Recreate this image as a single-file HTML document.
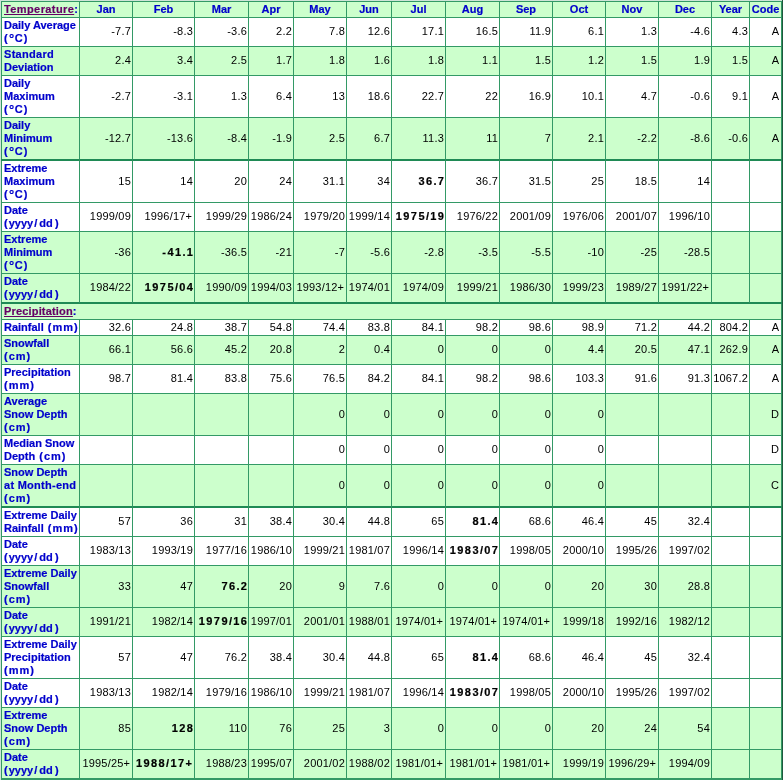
<!DOCTYPE html><html><head><meta charset="utf-8"><style>
*{margin:0;padding:0;box-sizing:border-box}
html,body{width:783px;height:780px;overflow:hidden;background:#cfe4d8}
body{position:relative;-webkit-font-smoothing:antialiased;font-family:"Liberation Sans",sans-serif;font-size:11px;line-height:13px}
#g{position:absolute;left:1px;top:1px;width:781px;height:779px;background:#339966}
#sh{position:absolute;left:782px;top:0;width:1px;height:780px;background:#1e5a3c}
.c{position:absolute;white-space:nowrap;overflow:visible}
#w{position:absolute;left:0;top:0;width:783px;height:780px;will-change:transform}
.l{font-weight:bold;color:#0000cc;padding-left:2px;-webkit-text-stroke:0.2px}
.n{text-align:right;padding-right:1px;color:#000;letter-spacing:0.2px}
.h{text-align:center;font-weight:bold;color:#0000cc;-webkit-text-stroke:0.2px}
.k{text-align:right;padding-right:2px;color:#000}
b{font-weight:bold;-webkit-text-stroke:0.2px}
a{color:#660066;text-decoration:underline;text-decoration-skip-ink:none}
</style></head><body>
<div id="g"></div><div id="sh"></div><div id="w">
<div class="c l" style="left:2px;top:2px;width:77px;height:15px;padding-top:1px;background:#ccffcc"><a style="letter-spacing:0.4px">Temperature</a>:</div>
<div class="c h" style="left:80px;top:2px;width:52px;height:15px;padding-top:1px;background:#ccffcc">Jan</div>
<div class="c h" style="left:133px;top:2px;width:61px;height:15px;padding-top:1px;background:#ccffcc">Feb</div>
<div class="c h" style="left:195px;top:2px;width:53px;height:15px;padding-top:1px;background:#ccffcc">Mar</div>
<div class="c h" style="left:249px;top:2px;width:44px;height:15px;padding-top:1px;background:#ccffcc">Apr</div>
<div class="c h" style="left:294px;top:2px;width:52px;height:15px;padding-top:1px;background:#ccffcc">May</div>
<div class="c h" style="left:347px;top:2px;width:44px;height:15px;padding-top:1px;background:#ccffcc">Jun</div>
<div class="c h" style="left:392px;top:2px;width:53px;height:15px;padding-top:1px;background:#ccffcc">Jul</div>
<div class="c h" style="left:446px;top:2px;width:53px;height:15px;padding-top:1px;background:#ccffcc">Aug</div>
<div class="c h" style="left:500px;top:2px;width:52px;height:15px;padding-top:1px;background:#ccffcc">Sep</div>
<div class="c h" style="left:553px;top:2px;width:52px;height:15px;padding-top:1px;background:#ccffcc">Oct</div>
<div class="c h" style="left:606px;top:2px;width:52px;height:15px;padding-top:1px;background:#ccffcc">Nov</div>
<div class="c h" style="left:659px;top:2px;width:52px;height:15px;padding-top:1px;background:#ccffcc">Dec</div>
<div class="c h" style="left:712px;top:2px;width:37px;height:15px;padding-top:1px;background:#ccffcc">Year</div>
<div class="c h" style="left:750px;top:2px;width:31px;height:15px;padding-top:1px;background:#ccffcc">Code</div>
<div class="c l" style="left:2px;top:18px;width:77px;height:28px;padding-top:1px;background:#ffffff">Daily Average<br><span style="letter-spacing:1.2px">(<span style="font-size:13px;line-height:1px;letter-spacing:0.6px;position:relative;top:1px">°</span>C)</span></div>
<div class="c n" style="left:80px;top:18px;width:52px;height:28px;padding-top:7px;background:#ffffff">-7.7</div>
<div class="c n" style="left:133px;top:18px;width:61px;height:28px;padding-top:7px;background:#ffffff">-8.3</div>
<div class="c n" style="left:195px;top:18px;width:53px;height:28px;padding-top:7px;background:#ffffff">-3.6</div>
<div class="c n" style="left:249px;top:18px;width:44px;height:28px;padding-top:7px;background:#ffffff">2.2</div>
<div class="c n" style="left:294px;top:18px;width:52px;height:28px;padding-top:7px;background:#ffffff">7.8</div>
<div class="c n" style="left:347px;top:18px;width:44px;height:28px;padding-top:7px;background:#ffffff">12.6</div>
<div class="c n" style="left:392px;top:18px;width:53px;height:28px;padding-top:7px;background:#ffffff">17.1</div>
<div class="c n" style="left:446px;top:18px;width:53px;height:28px;padding-top:7px;background:#ffffff">16.5</div>
<div class="c n" style="left:500px;top:18px;width:52px;height:28px;padding-top:7px;background:#ffffff">11.9</div>
<div class="c n" style="left:553px;top:18px;width:52px;height:28px;padding-top:7px;background:#ffffff">6.1</div>
<div class="c n" style="left:606px;top:18px;width:52px;height:28px;padding-top:7px;background:#ffffff">1.3</div>
<div class="c n" style="left:659px;top:18px;width:52px;height:28px;padding-top:7px;background:#ffffff">-4.6</div>
<div class="c n" style="left:712px;top:18px;width:37px;height:28px;padding-top:7px;background:#ffffff">4.3</div>
<div class="c k" style="left:750px;top:18px;width:31px;height:28px;padding-top:7px;background:#ffffff">A</div>
<div class="c l" style="left:2px;top:47px;width:77px;height:28px;padding-top:1px;background:#ccffcc"><span style="letter-spacing:0.29px">Standard</span><br>Deviation</div>
<div class="c n" style="left:80px;top:47px;width:52px;height:28px;padding-top:7px;background:#ccffcc">2.4</div>
<div class="c n" style="left:133px;top:47px;width:61px;height:28px;padding-top:7px;background:#ccffcc">3.4</div>
<div class="c n" style="left:195px;top:47px;width:53px;height:28px;padding-top:7px;background:#ccffcc">2.5</div>
<div class="c n" style="left:249px;top:47px;width:44px;height:28px;padding-top:7px;background:#ccffcc">1.7</div>
<div class="c n" style="left:294px;top:47px;width:52px;height:28px;padding-top:7px;background:#ccffcc">1.8</div>
<div class="c n" style="left:347px;top:47px;width:44px;height:28px;padding-top:7px;background:#ccffcc">1.6</div>
<div class="c n" style="left:392px;top:47px;width:53px;height:28px;padding-top:7px;background:#ccffcc">1.8</div>
<div class="c n" style="left:446px;top:47px;width:53px;height:28px;padding-top:7px;background:#ccffcc">1.1</div>
<div class="c n" style="left:500px;top:47px;width:52px;height:28px;padding-top:7px;background:#ccffcc">1.5</div>
<div class="c n" style="left:553px;top:47px;width:52px;height:28px;padding-top:7px;background:#ccffcc">1.2</div>
<div class="c n" style="left:606px;top:47px;width:52px;height:28px;padding-top:7px;background:#ccffcc">1.5</div>
<div class="c n" style="left:659px;top:47px;width:52px;height:28px;padding-top:7px;background:#ccffcc">1.9</div>
<div class="c n" style="left:712px;top:47px;width:37px;height:28px;padding-top:7px;background:#ccffcc">1.5</div>
<div class="c k" style="left:750px;top:47px;width:31px;height:28px;padding-top:7px;background:#ccffcc">A</div>
<div class="c l" style="left:2px;top:76px;width:77px;height:41px;padding-top:1px;background:#ffffff">Daily<br>Maximum<br><span style="letter-spacing:1.2px">(<span style="font-size:13px;line-height:1px;letter-spacing:0.6px;position:relative;top:1px">°</span>C)</span></div>
<div class="c n" style="left:80px;top:76px;width:52px;height:41px;padding-top:14px;background:#ffffff">-2.7</div>
<div class="c n" style="left:133px;top:76px;width:61px;height:41px;padding-top:14px;background:#ffffff">-3.1</div>
<div class="c n" style="left:195px;top:76px;width:53px;height:41px;padding-top:14px;background:#ffffff">1.3</div>
<div class="c n" style="left:249px;top:76px;width:44px;height:41px;padding-top:14px;background:#ffffff">6.4</div>
<div class="c n" style="left:294px;top:76px;width:52px;height:41px;padding-top:14px;background:#ffffff">13</div>
<div class="c n" style="left:347px;top:76px;width:44px;height:41px;padding-top:14px;background:#ffffff">18.6</div>
<div class="c n" style="left:392px;top:76px;width:53px;height:41px;padding-top:14px;background:#ffffff">22.7</div>
<div class="c n" style="left:446px;top:76px;width:53px;height:41px;padding-top:14px;background:#ffffff">22</div>
<div class="c n" style="left:500px;top:76px;width:52px;height:41px;padding-top:14px;background:#ffffff">16.9</div>
<div class="c n" style="left:553px;top:76px;width:52px;height:41px;padding-top:14px;background:#ffffff">10.1</div>
<div class="c n" style="left:606px;top:76px;width:52px;height:41px;padding-top:14px;background:#ffffff">4.7</div>
<div class="c n" style="left:659px;top:76px;width:52px;height:41px;padding-top:14px;background:#ffffff">-0.6</div>
<div class="c n" style="left:712px;top:76px;width:37px;height:41px;padding-top:14px;background:#ffffff">9.1</div>
<div class="c k" style="left:750px;top:76px;width:31px;height:41px;padding-top:14px;background:#ffffff">A</div>
<div class="c l" style="left:2px;top:118px;width:77px;height:41px;padding-top:1px;background:#ccffcc">Daily<br>Minimum<br><span style="letter-spacing:1.2px">(<span style="font-size:13px;line-height:1px;letter-spacing:0.6px;position:relative;top:1px">°</span>C)</span></div>
<div class="c n" style="left:80px;top:118px;width:52px;height:41px;padding-top:14px;background:#ccffcc">-12.7</div>
<div class="c n" style="left:133px;top:118px;width:61px;height:41px;padding-top:14px;background:#ccffcc">-13.6</div>
<div class="c n" style="left:195px;top:118px;width:53px;height:41px;padding-top:14px;background:#ccffcc">-8.4</div>
<div class="c n" style="left:249px;top:118px;width:44px;height:41px;padding-top:14px;background:#ccffcc">-1.9</div>
<div class="c n" style="left:294px;top:118px;width:52px;height:41px;padding-top:14px;background:#ccffcc">2.5</div>
<div class="c n" style="left:347px;top:118px;width:44px;height:41px;padding-top:14px;background:#ccffcc">6.7</div>
<div class="c n" style="left:392px;top:118px;width:53px;height:41px;padding-top:14px;background:#ccffcc">11.3</div>
<div class="c n" style="left:446px;top:118px;width:53px;height:41px;padding-top:14px;background:#ccffcc">11</div>
<div class="c n" style="left:500px;top:118px;width:52px;height:41px;padding-top:14px;background:#ccffcc">7</div>
<div class="c n" style="left:553px;top:118px;width:52px;height:41px;padding-top:14px;background:#ccffcc">2.1</div>
<div class="c n" style="left:606px;top:118px;width:52px;height:41px;padding-top:14px;background:#ccffcc">-2.2</div>
<div class="c n" style="left:659px;top:118px;width:52px;height:41px;padding-top:14px;background:#ccffcc">-8.6</div>
<div class="c n" style="left:712px;top:118px;width:37px;height:41px;padding-top:14px;background:#ccffcc">-0.6</div>
<div class="c k" style="left:750px;top:118px;width:31px;height:41px;padding-top:14px;background:#ccffcc">A</div>
<div class="c l" style="left:2px;top:161px;width:77px;height:41px;padding-top:1px;background:#ffffff">Extreme<br>Maximum<br><span style="letter-spacing:1.2px">(<span style="font-size:13px;line-height:1px;letter-spacing:0.6px;position:relative;top:1px">°</span>C)</span></div>
<div class="c n" style="left:80px;top:161px;width:52px;height:41px;padding-top:14px;background:#ffffff">15</div>
<div class="c n" style="left:133px;top:161px;width:61px;height:41px;padding-top:14px;background:#ffffff">14</div>
<div class="c n" style="left:195px;top:161px;width:53px;height:41px;padding-top:14px;background:#ffffff">20</div>
<div class="c n" style="left:249px;top:161px;width:44px;height:41px;padding-top:14px;background:#ffffff">24</div>
<div class="c n" style="left:294px;top:161px;width:52px;height:41px;padding-top:14px;background:#ffffff">31.1</div>
<div class="c n" style="left:347px;top:161px;width:44px;height:41px;padding-top:14px;background:#ffffff">34</div>
<div class="c n" style="left:392px;top:161px;width:53px;height:41px;padding-top:14px;background:#ffffff"><b style="letter-spacing:1.4px;margin-right:-1.4px">36.7</b></div>
<div class="c n" style="left:446px;top:161px;width:53px;height:41px;padding-top:14px;background:#ffffff">36.7</div>
<div class="c n" style="left:500px;top:161px;width:52px;height:41px;padding-top:14px;background:#ffffff">31.5</div>
<div class="c n" style="left:553px;top:161px;width:52px;height:41px;padding-top:14px;background:#ffffff">25</div>
<div class="c n" style="left:606px;top:161px;width:52px;height:41px;padding-top:14px;background:#ffffff">18.5</div>
<div class="c n" style="left:659px;top:161px;width:52px;height:41px;padding-top:14px;background:#ffffff">14</div>
<div class="c n" style="left:712px;top:161px;width:37px;height:41px;padding-top:14px;background:#ffffff"></div>
<div class="c k" style="left:750px;top:161px;width:31px;height:41px;padding-top:14px;background:#ffffff"></div>
<div class="c l" style="left:2px;top:203px;width:77px;height:28px;padding-top:1px;background:#ffffff">Date<br><span style="letter-spacing:1px">(</span>yyy<span style="letter-spacing:1px">y</span><span style="letter-spacing:2px">/</span>d<span style="letter-spacing:2.2px">d</span>)</div>
<div class="c n" style="left:80px;top:203px;width:52px;height:28px;padding-top:7px;background:#ffffff">1999/09</div>
<div class="c n" style="left:133px;top:203px;width:61px;height:28px;padding-top:7px;background:#ffffff"><span style="margin-right:0.8px">1996/17+</span></div>
<div class="c n" style="left:195px;top:203px;width:53px;height:28px;padding-top:7px;background:#ffffff">1999/29</div>
<div class="c n" style="left:249px;top:203px;width:44px;height:28px;padding-top:7px;background:#ffffff">1986/24</div>
<div class="c n" style="left:294px;top:203px;width:52px;height:28px;padding-top:7px;background:#ffffff">1979/20</div>
<div class="c n" style="left:347px;top:203px;width:44px;height:28px;padding-top:7px;background:#ffffff">1999/14</div>
<div class="c n" style="left:392px;top:203px;width:53px;height:28px;padding-top:7px;background:#ffffff"><b style="letter-spacing:1.4px;margin-right:-1.4px">1975/19</b></div>
<div class="c n" style="left:446px;top:203px;width:53px;height:28px;padding-top:7px;background:#ffffff">1976/22</div>
<div class="c n" style="left:500px;top:203px;width:52px;height:28px;padding-top:7px;background:#ffffff">2001/09</div>
<div class="c n" style="left:553px;top:203px;width:52px;height:28px;padding-top:7px;background:#ffffff">1976/06</div>
<div class="c n" style="left:606px;top:203px;width:52px;height:28px;padding-top:7px;background:#ffffff">2001/07</div>
<div class="c n" style="left:659px;top:203px;width:52px;height:28px;padding-top:7px;background:#ffffff">1996/10</div>
<div class="c n" style="left:712px;top:203px;width:37px;height:28px;padding-top:7px;background:#ffffff"></div>
<div class="c k" style="left:750px;top:203px;width:31px;height:28px;padding-top:7px;background:#ffffff"></div>
<div class="c l" style="left:2px;top:232px;width:77px;height:41px;padding-top:1px;background:#ccffcc">Extreme<br>Minimum<br><span style="letter-spacing:1.2px">(<span style="font-size:13px;line-height:1px;letter-spacing:0.6px;position:relative;top:1px">°</span>C)</span></div>
<div class="c n" style="left:80px;top:232px;width:52px;height:41px;padding-top:14px;background:#ccffcc">-36</div>
<div class="c n" style="left:133px;top:232px;width:61px;height:41px;padding-top:14px;background:#ccffcc"><b style="letter-spacing:1.4px;margin-right:-1.4px">-41.1</b></div>
<div class="c n" style="left:195px;top:232px;width:53px;height:41px;padding-top:14px;background:#ccffcc">-36.5</div>
<div class="c n" style="left:249px;top:232px;width:44px;height:41px;padding-top:14px;background:#ccffcc">-21</div>
<div class="c n" style="left:294px;top:232px;width:52px;height:41px;padding-top:14px;background:#ccffcc">-7</div>
<div class="c n" style="left:347px;top:232px;width:44px;height:41px;padding-top:14px;background:#ccffcc">-5.6</div>
<div class="c n" style="left:392px;top:232px;width:53px;height:41px;padding-top:14px;background:#ccffcc">-2.8</div>
<div class="c n" style="left:446px;top:232px;width:53px;height:41px;padding-top:14px;background:#ccffcc">-3.5</div>
<div class="c n" style="left:500px;top:232px;width:52px;height:41px;padding-top:14px;background:#ccffcc">-5.5</div>
<div class="c n" style="left:553px;top:232px;width:52px;height:41px;padding-top:14px;background:#ccffcc">-10</div>
<div class="c n" style="left:606px;top:232px;width:52px;height:41px;padding-top:14px;background:#ccffcc">-25</div>
<div class="c n" style="left:659px;top:232px;width:52px;height:41px;padding-top:14px;background:#ccffcc">-28.5</div>
<div class="c n" style="left:712px;top:232px;width:37px;height:41px;padding-top:14px;background:#ccffcc"></div>
<div class="c k" style="left:750px;top:232px;width:31px;height:41px;padding-top:14px;background:#ccffcc"></div>
<div class="c l" style="left:2px;top:274px;width:77px;height:28px;padding-top:1px;background:#ccffcc">Date<br><span style="letter-spacing:1px">(</span>yyy<span style="letter-spacing:1px">y</span><span style="letter-spacing:2px">/</span>d<span style="letter-spacing:2.2px">d</span>)</div>
<div class="c n" style="left:80px;top:274px;width:52px;height:28px;padding-top:7px;background:#ccffcc">1984/22</div>
<div class="c n" style="left:133px;top:274px;width:61px;height:28px;padding-top:7px;background:#ccffcc"><b style="letter-spacing:1.4px;margin-right:-1.4px">1975/04</b></div>
<div class="c n" style="left:195px;top:274px;width:53px;height:28px;padding-top:7px;background:#ccffcc">1990/09</div>
<div class="c n" style="left:249px;top:274px;width:44px;height:28px;padding-top:7px;background:#ccffcc">1994/03</div>
<div class="c n" style="left:294px;top:274px;width:52px;height:28px;padding-top:7px;background:#ccffcc"><span style="margin-right:0.8px">1993/12+</span></div>
<div class="c n" style="left:347px;top:274px;width:44px;height:28px;padding-top:7px;background:#ccffcc">1974/01</div>
<div class="c n" style="left:392px;top:274px;width:53px;height:28px;padding-top:7px;background:#ccffcc">1974/09</div>
<div class="c n" style="left:446px;top:274px;width:53px;height:28px;padding-top:7px;background:#ccffcc">1999/21</div>
<div class="c n" style="left:500px;top:274px;width:52px;height:28px;padding-top:7px;background:#ccffcc">1986/30</div>
<div class="c n" style="left:553px;top:274px;width:52px;height:28px;padding-top:7px;background:#ccffcc">1999/23</div>
<div class="c n" style="left:606px;top:274px;width:52px;height:28px;padding-top:7px;background:#ccffcc">1989/27</div>
<div class="c n" style="left:659px;top:274px;width:52px;height:28px;padding-top:7px;background:#ccffcc"><span style="margin-right:0.8px">1991/22+</span></div>
<div class="c n" style="left:712px;top:274px;width:37px;height:28px;padding-top:7px;background:#ccffcc"></div>
<div class="c k" style="left:750px;top:274px;width:31px;height:28px;padding-top:7px;background:#ccffcc"></div>
<div class="c l" style="left:2px;top:304px;width:779px;height:15px;padding-top:1px;background:#ccffcc"><a style="letter-spacing:0.17px">Precipitation</a>:</div>
<div class="c l" style="left:2px;top:320px;width:77px;height:15px;padding-top:1px;background:#ffffff">Rainfall<span style="margin-left:1px"></span> <span style="letter-spacing:1.0px">(mm)</span></div>
<div class="c n" style="left:80px;top:320px;width:52px;height:15px;padding-top:1px;background:#ffffff">32.6</div>
<div class="c n" style="left:133px;top:320px;width:61px;height:15px;padding-top:1px;background:#ffffff">24.8</div>
<div class="c n" style="left:195px;top:320px;width:53px;height:15px;padding-top:1px;background:#ffffff">38.7</div>
<div class="c n" style="left:249px;top:320px;width:44px;height:15px;padding-top:1px;background:#ffffff">54.8</div>
<div class="c n" style="left:294px;top:320px;width:52px;height:15px;padding-top:1px;background:#ffffff">74.4</div>
<div class="c n" style="left:347px;top:320px;width:44px;height:15px;padding-top:1px;background:#ffffff">83.8</div>
<div class="c n" style="left:392px;top:320px;width:53px;height:15px;padding-top:1px;background:#ffffff">84.1</div>
<div class="c n" style="left:446px;top:320px;width:53px;height:15px;padding-top:1px;background:#ffffff">98.2</div>
<div class="c n" style="left:500px;top:320px;width:52px;height:15px;padding-top:1px;background:#ffffff">98.6</div>
<div class="c n" style="left:553px;top:320px;width:52px;height:15px;padding-top:1px;background:#ffffff">98.9</div>
<div class="c n" style="left:606px;top:320px;width:52px;height:15px;padding-top:1px;background:#ffffff">71.2</div>
<div class="c n" style="left:659px;top:320px;width:52px;height:15px;padding-top:1px;background:#ffffff">44.2</div>
<div class="c n" style="left:712px;top:320px;width:37px;height:15px;padding-top:1px;background:#ffffff">804.2</div>
<div class="c k" style="left:750px;top:320px;width:31px;height:15px;padding-top:1px;background:#ffffff">A</div>
<div class="c l" style="left:2px;top:336px;width:77px;height:28px;padding-top:1px;background:#ccffcc">Snowfall<br><span style="letter-spacing:1.0px">(cm)</span></div>
<div class="c n" style="left:80px;top:336px;width:52px;height:28px;padding-top:7px;background:#ccffcc">66.1</div>
<div class="c n" style="left:133px;top:336px;width:61px;height:28px;padding-top:7px;background:#ccffcc">56.6</div>
<div class="c n" style="left:195px;top:336px;width:53px;height:28px;padding-top:7px;background:#ccffcc">45.2</div>
<div class="c n" style="left:249px;top:336px;width:44px;height:28px;padding-top:7px;background:#ccffcc">20.8</div>
<div class="c n" style="left:294px;top:336px;width:52px;height:28px;padding-top:7px;background:#ccffcc">2</div>
<div class="c n" style="left:347px;top:336px;width:44px;height:28px;padding-top:7px;background:#ccffcc">0.4</div>
<div class="c n" style="left:392px;top:336px;width:53px;height:28px;padding-top:7px;background:#ccffcc">0</div>
<div class="c n" style="left:446px;top:336px;width:53px;height:28px;padding-top:7px;background:#ccffcc">0</div>
<div class="c n" style="left:500px;top:336px;width:52px;height:28px;padding-top:7px;background:#ccffcc">0</div>
<div class="c n" style="left:553px;top:336px;width:52px;height:28px;padding-top:7px;background:#ccffcc">4.4</div>
<div class="c n" style="left:606px;top:336px;width:52px;height:28px;padding-top:7px;background:#ccffcc">20.5</div>
<div class="c n" style="left:659px;top:336px;width:52px;height:28px;padding-top:7px;background:#ccffcc">47.1</div>
<div class="c n" style="left:712px;top:336px;width:37px;height:28px;padding-top:7px;background:#ccffcc">262.9</div>
<div class="c k" style="left:750px;top:336px;width:31px;height:28px;padding-top:7px;background:#ccffcc">A</div>
<div class="c l" style="left:2px;top:365px;width:77px;height:28px;padding-top:1px;background:#ffffff">Precipitation<br><span style="letter-spacing:1.0px">(mm)</span></div>
<div class="c n" style="left:80px;top:365px;width:52px;height:28px;padding-top:7px;background:#ffffff">98.7</div>
<div class="c n" style="left:133px;top:365px;width:61px;height:28px;padding-top:7px;background:#ffffff">81.4</div>
<div class="c n" style="left:195px;top:365px;width:53px;height:28px;padding-top:7px;background:#ffffff">83.8</div>
<div class="c n" style="left:249px;top:365px;width:44px;height:28px;padding-top:7px;background:#ffffff">75.6</div>
<div class="c n" style="left:294px;top:365px;width:52px;height:28px;padding-top:7px;background:#ffffff">76.5</div>
<div class="c n" style="left:347px;top:365px;width:44px;height:28px;padding-top:7px;background:#ffffff">84.2</div>
<div class="c n" style="left:392px;top:365px;width:53px;height:28px;padding-top:7px;background:#ffffff">84.1</div>
<div class="c n" style="left:446px;top:365px;width:53px;height:28px;padding-top:7px;background:#ffffff">98.2</div>
<div class="c n" style="left:500px;top:365px;width:52px;height:28px;padding-top:7px;background:#ffffff">98.6</div>
<div class="c n" style="left:553px;top:365px;width:52px;height:28px;padding-top:7px;background:#ffffff">103.3</div>
<div class="c n" style="left:606px;top:365px;width:52px;height:28px;padding-top:7px;background:#ffffff">91.6</div>
<div class="c n" style="left:659px;top:365px;width:52px;height:28px;padding-top:7px;background:#ffffff">91.3</div>
<div class="c n" style="left:712px;top:365px;width:37px;height:28px;padding-top:7px;background:#ffffff">1067.2</div>
<div class="c k" style="left:750px;top:365px;width:31px;height:28px;padding-top:7px;background:#ffffff">A</div>
<div class="c l" style="left:2px;top:394px;width:77px;height:41px;padding-top:1px;background:#ccffcc">Average<br>Snow Depth<br><span style="letter-spacing:1.0px">(cm)</span></div>
<div class="c n" style="left:80px;top:394px;width:52px;height:41px;padding-top:14px;background:#ccffcc"></div>
<div class="c n" style="left:133px;top:394px;width:61px;height:41px;padding-top:14px;background:#ccffcc"></div>
<div class="c n" style="left:195px;top:394px;width:53px;height:41px;padding-top:14px;background:#ccffcc"></div>
<div class="c n" style="left:249px;top:394px;width:44px;height:41px;padding-top:14px;background:#ccffcc"></div>
<div class="c n" style="left:294px;top:394px;width:52px;height:41px;padding-top:14px;background:#ccffcc">0</div>
<div class="c n" style="left:347px;top:394px;width:44px;height:41px;padding-top:14px;background:#ccffcc">0</div>
<div class="c n" style="left:392px;top:394px;width:53px;height:41px;padding-top:14px;background:#ccffcc">0</div>
<div class="c n" style="left:446px;top:394px;width:53px;height:41px;padding-top:14px;background:#ccffcc">0</div>
<div class="c n" style="left:500px;top:394px;width:52px;height:41px;padding-top:14px;background:#ccffcc">0</div>
<div class="c n" style="left:553px;top:394px;width:52px;height:41px;padding-top:14px;background:#ccffcc">0</div>
<div class="c n" style="left:606px;top:394px;width:52px;height:41px;padding-top:14px;background:#ccffcc"></div>
<div class="c n" style="left:659px;top:394px;width:52px;height:41px;padding-top:14px;background:#ccffcc"></div>
<div class="c n" style="left:712px;top:394px;width:37px;height:41px;padding-top:14px;background:#ccffcc"></div>
<div class="c k" style="left:750px;top:394px;width:31px;height:41px;padding-top:14px;background:#ccffcc">D</div>
<div class="c l" style="left:2px;top:436px;width:77px;height:28px;padding-top:1px;background:#ffffff">Median Snow<br>Depth<span style="margin-left:1px"></span> <span style="letter-spacing:1.0px">(cm)</span></div>
<div class="c n" style="left:80px;top:436px;width:52px;height:28px;padding-top:7px;background:#ffffff"></div>
<div class="c n" style="left:133px;top:436px;width:61px;height:28px;padding-top:7px;background:#ffffff"></div>
<div class="c n" style="left:195px;top:436px;width:53px;height:28px;padding-top:7px;background:#ffffff"></div>
<div class="c n" style="left:249px;top:436px;width:44px;height:28px;padding-top:7px;background:#ffffff"></div>
<div class="c n" style="left:294px;top:436px;width:52px;height:28px;padding-top:7px;background:#ffffff">0</div>
<div class="c n" style="left:347px;top:436px;width:44px;height:28px;padding-top:7px;background:#ffffff">0</div>
<div class="c n" style="left:392px;top:436px;width:53px;height:28px;padding-top:7px;background:#ffffff">0</div>
<div class="c n" style="left:446px;top:436px;width:53px;height:28px;padding-top:7px;background:#ffffff">0</div>
<div class="c n" style="left:500px;top:436px;width:52px;height:28px;padding-top:7px;background:#ffffff">0</div>
<div class="c n" style="left:553px;top:436px;width:52px;height:28px;padding-top:7px;background:#ffffff">0</div>
<div class="c n" style="left:606px;top:436px;width:52px;height:28px;padding-top:7px;background:#ffffff"></div>
<div class="c n" style="left:659px;top:436px;width:52px;height:28px;padding-top:7px;background:#ffffff"></div>
<div class="c n" style="left:712px;top:436px;width:37px;height:28px;padding-top:7px;background:#ffffff"></div>
<div class="c k" style="left:750px;top:436px;width:31px;height:28px;padding-top:7px;background:#ffffff">D</div>
<div class="c l" style="left:2px;top:465px;width:77px;height:41px;padding-top:1px;background:#ccffcc">Snow Depth<br><span style="letter-spacing:0.27px">at Month-end</span><br><span style="letter-spacing:1.0px">(cm)</span></div>
<div class="c n" style="left:80px;top:465px;width:52px;height:41px;padding-top:14px;background:#ccffcc"></div>
<div class="c n" style="left:133px;top:465px;width:61px;height:41px;padding-top:14px;background:#ccffcc"></div>
<div class="c n" style="left:195px;top:465px;width:53px;height:41px;padding-top:14px;background:#ccffcc"></div>
<div class="c n" style="left:249px;top:465px;width:44px;height:41px;padding-top:14px;background:#ccffcc"></div>
<div class="c n" style="left:294px;top:465px;width:52px;height:41px;padding-top:14px;background:#ccffcc">0</div>
<div class="c n" style="left:347px;top:465px;width:44px;height:41px;padding-top:14px;background:#ccffcc">0</div>
<div class="c n" style="left:392px;top:465px;width:53px;height:41px;padding-top:14px;background:#ccffcc">0</div>
<div class="c n" style="left:446px;top:465px;width:53px;height:41px;padding-top:14px;background:#ccffcc">0</div>
<div class="c n" style="left:500px;top:465px;width:52px;height:41px;padding-top:14px;background:#ccffcc">0</div>
<div class="c n" style="left:553px;top:465px;width:52px;height:41px;padding-top:14px;background:#ccffcc">0</div>
<div class="c n" style="left:606px;top:465px;width:52px;height:41px;padding-top:14px;background:#ccffcc"></div>
<div class="c n" style="left:659px;top:465px;width:52px;height:41px;padding-top:14px;background:#ccffcc"></div>
<div class="c n" style="left:712px;top:465px;width:37px;height:41px;padding-top:14px;background:#ccffcc"></div>
<div class="c k" style="left:750px;top:465px;width:31px;height:41px;padding-top:14px;background:#ccffcc">C</div>
<div class="c l" style="left:2px;top:508px;width:77px;height:28px;padding-top:1px;background:#ffffff">Extreme Daily<br>Rainfall<span style="margin-left:1px"></span> <span style="letter-spacing:1.0px">(mm)</span></div>
<div class="c n" style="left:80px;top:508px;width:52px;height:28px;padding-top:7px;background:#ffffff">57</div>
<div class="c n" style="left:133px;top:508px;width:61px;height:28px;padding-top:7px;background:#ffffff">36</div>
<div class="c n" style="left:195px;top:508px;width:53px;height:28px;padding-top:7px;background:#ffffff">31</div>
<div class="c n" style="left:249px;top:508px;width:44px;height:28px;padding-top:7px;background:#ffffff">38.4</div>
<div class="c n" style="left:294px;top:508px;width:52px;height:28px;padding-top:7px;background:#ffffff">30.4</div>
<div class="c n" style="left:347px;top:508px;width:44px;height:28px;padding-top:7px;background:#ffffff">44.8</div>
<div class="c n" style="left:392px;top:508px;width:53px;height:28px;padding-top:7px;background:#ffffff">65</div>
<div class="c n" style="left:446px;top:508px;width:53px;height:28px;padding-top:7px;background:#ffffff"><b style="letter-spacing:1.4px;margin-right:-1.4px">81.4</b></div>
<div class="c n" style="left:500px;top:508px;width:52px;height:28px;padding-top:7px;background:#ffffff">68.6</div>
<div class="c n" style="left:553px;top:508px;width:52px;height:28px;padding-top:7px;background:#ffffff">46.4</div>
<div class="c n" style="left:606px;top:508px;width:52px;height:28px;padding-top:7px;background:#ffffff">45</div>
<div class="c n" style="left:659px;top:508px;width:52px;height:28px;padding-top:7px;background:#ffffff">32.4</div>
<div class="c n" style="left:712px;top:508px;width:37px;height:28px;padding-top:7px;background:#ffffff"></div>
<div class="c k" style="left:750px;top:508px;width:31px;height:28px;padding-top:7px;background:#ffffff"></div>
<div class="c l" style="left:2px;top:537px;width:77px;height:28px;padding-top:1px;background:#ffffff">Date<br><span style="letter-spacing:1px">(</span>yyy<span style="letter-spacing:1px">y</span><span style="letter-spacing:2px">/</span>d<span style="letter-spacing:2.2px">d</span>)</div>
<div class="c n" style="left:80px;top:537px;width:52px;height:28px;padding-top:7px;background:#ffffff">1983/13</div>
<div class="c n" style="left:133px;top:537px;width:61px;height:28px;padding-top:7px;background:#ffffff">1993/19</div>
<div class="c n" style="left:195px;top:537px;width:53px;height:28px;padding-top:7px;background:#ffffff">1977/16</div>
<div class="c n" style="left:249px;top:537px;width:44px;height:28px;padding-top:7px;background:#ffffff">1986/10</div>
<div class="c n" style="left:294px;top:537px;width:52px;height:28px;padding-top:7px;background:#ffffff">1999/21</div>
<div class="c n" style="left:347px;top:537px;width:44px;height:28px;padding-top:7px;background:#ffffff">1981/07</div>
<div class="c n" style="left:392px;top:537px;width:53px;height:28px;padding-top:7px;background:#ffffff">1996/14</div>
<div class="c n" style="left:446px;top:537px;width:53px;height:28px;padding-top:7px;background:#ffffff"><b style="letter-spacing:1.4px;margin-right:-1.4px">1983/07</b></div>
<div class="c n" style="left:500px;top:537px;width:52px;height:28px;padding-top:7px;background:#ffffff">1998/05</div>
<div class="c n" style="left:553px;top:537px;width:52px;height:28px;padding-top:7px;background:#ffffff">2000/10</div>
<div class="c n" style="left:606px;top:537px;width:52px;height:28px;padding-top:7px;background:#ffffff">1995/26</div>
<div class="c n" style="left:659px;top:537px;width:52px;height:28px;padding-top:7px;background:#ffffff">1997/02</div>
<div class="c n" style="left:712px;top:537px;width:37px;height:28px;padding-top:7px;background:#ffffff"></div>
<div class="c k" style="left:750px;top:537px;width:31px;height:28px;padding-top:7px;background:#ffffff"></div>
<div class="c l" style="left:2px;top:566px;width:77px;height:41px;padding-top:1px;background:#ccffcc">Extreme Daily<br>Snowfall<br><span style="letter-spacing:1.0px">(cm)</span></div>
<div class="c n" style="left:80px;top:566px;width:52px;height:41px;padding-top:14px;background:#ccffcc">33</div>
<div class="c n" style="left:133px;top:566px;width:61px;height:41px;padding-top:14px;background:#ccffcc">47</div>
<div class="c n" style="left:195px;top:566px;width:53px;height:41px;padding-top:14px;background:#ccffcc"><b style="letter-spacing:1.4px;margin-right:-1.4px">76.2</b></div>
<div class="c n" style="left:249px;top:566px;width:44px;height:41px;padding-top:14px;background:#ccffcc">20</div>
<div class="c n" style="left:294px;top:566px;width:52px;height:41px;padding-top:14px;background:#ccffcc">9</div>
<div class="c n" style="left:347px;top:566px;width:44px;height:41px;padding-top:14px;background:#ccffcc">7.6</div>
<div class="c n" style="left:392px;top:566px;width:53px;height:41px;padding-top:14px;background:#ccffcc">0</div>
<div class="c n" style="left:446px;top:566px;width:53px;height:41px;padding-top:14px;background:#ccffcc">0</div>
<div class="c n" style="left:500px;top:566px;width:52px;height:41px;padding-top:14px;background:#ccffcc">0</div>
<div class="c n" style="left:553px;top:566px;width:52px;height:41px;padding-top:14px;background:#ccffcc">20</div>
<div class="c n" style="left:606px;top:566px;width:52px;height:41px;padding-top:14px;background:#ccffcc">30</div>
<div class="c n" style="left:659px;top:566px;width:52px;height:41px;padding-top:14px;background:#ccffcc">28.8</div>
<div class="c n" style="left:712px;top:566px;width:37px;height:41px;padding-top:14px;background:#ccffcc"></div>
<div class="c k" style="left:750px;top:566px;width:31px;height:41px;padding-top:14px;background:#ccffcc"></div>
<div class="c l" style="left:2px;top:608px;width:77px;height:28px;padding-top:1px;background:#ccffcc">Date<br><span style="letter-spacing:1px">(</span>yyy<span style="letter-spacing:1px">y</span><span style="letter-spacing:2px">/</span>d<span style="letter-spacing:2.2px">d</span>)</div>
<div class="c n" style="left:80px;top:608px;width:52px;height:28px;padding-top:7px;background:#ccffcc">1991/21</div>
<div class="c n" style="left:133px;top:608px;width:61px;height:28px;padding-top:7px;background:#ccffcc">1982/14</div>
<div class="c n" style="left:195px;top:608px;width:53px;height:28px;padding-top:7px;background:#ccffcc"><b style="letter-spacing:1.4px;margin-right:-1.4px">1979/16</b></div>
<div class="c n" style="left:249px;top:608px;width:44px;height:28px;padding-top:7px;background:#ccffcc">1997/01</div>
<div class="c n" style="left:294px;top:608px;width:52px;height:28px;padding-top:7px;background:#ccffcc">2001/01</div>
<div class="c n" style="left:347px;top:608px;width:44px;height:28px;padding-top:7px;background:#ccffcc">1988/01</div>
<div class="c n" style="left:392px;top:608px;width:53px;height:28px;padding-top:7px;background:#ccffcc"><span style="margin-right:0.8px">1974/01+</span></div>
<div class="c n" style="left:446px;top:608px;width:53px;height:28px;padding-top:7px;background:#ccffcc"><span style="margin-right:0.8px">1974/01+</span></div>
<div class="c n" style="left:500px;top:608px;width:52px;height:28px;padding-top:7px;background:#ccffcc"><span style="margin-right:0.8px">1974/01+</span></div>
<div class="c n" style="left:553px;top:608px;width:52px;height:28px;padding-top:7px;background:#ccffcc">1999/18</div>
<div class="c n" style="left:606px;top:608px;width:52px;height:28px;padding-top:7px;background:#ccffcc">1992/16</div>
<div class="c n" style="left:659px;top:608px;width:52px;height:28px;padding-top:7px;background:#ccffcc">1982/12</div>
<div class="c n" style="left:712px;top:608px;width:37px;height:28px;padding-top:7px;background:#ccffcc"></div>
<div class="c k" style="left:750px;top:608px;width:31px;height:28px;padding-top:7px;background:#ccffcc"></div>
<div class="c l" style="left:2px;top:637px;width:77px;height:41px;padding-top:1px;background:#ffffff">Extreme Daily<br>Precipitation<br><span style="letter-spacing:1.0px">(mm)</span></div>
<div class="c n" style="left:80px;top:637px;width:52px;height:41px;padding-top:14px;background:#ffffff">57</div>
<div class="c n" style="left:133px;top:637px;width:61px;height:41px;padding-top:14px;background:#ffffff">47</div>
<div class="c n" style="left:195px;top:637px;width:53px;height:41px;padding-top:14px;background:#ffffff">76.2</div>
<div class="c n" style="left:249px;top:637px;width:44px;height:41px;padding-top:14px;background:#ffffff">38.4</div>
<div class="c n" style="left:294px;top:637px;width:52px;height:41px;padding-top:14px;background:#ffffff">30.4</div>
<div class="c n" style="left:347px;top:637px;width:44px;height:41px;padding-top:14px;background:#ffffff">44.8</div>
<div class="c n" style="left:392px;top:637px;width:53px;height:41px;padding-top:14px;background:#ffffff">65</div>
<div class="c n" style="left:446px;top:637px;width:53px;height:41px;padding-top:14px;background:#ffffff"><b style="letter-spacing:1.4px;margin-right:-1.4px">81.4</b></div>
<div class="c n" style="left:500px;top:637px;width:52px;height:41px;padding-top:14px;background:#ffffff">68.6</div>
<div class="c n" style="left:553px;top:637px;width:52px;height:41px;padding-top:14px;background:#ffffff">46.4</div>
<div class="c n" style="left:606px;top:637px;width:52px;height:41px;padding-top:14px;background:#ffffff">45</div>
<div class="c n" style="left:659px;top:637px;width:52px;height:41px;padding-top:14px;background:#ffffff">32.4</div>
<div class="c n" style="left:712px;top:637px;width:37px;height:41px;padding-top:14px;background:#ffffff"></div>
<div class="c k" style="left:750px;top:637px;width:31px;height:41px;padding-top:14px;background:#ffffff"></div>
<div class="c l" style="left:2px;top:679px;width:77px;height:28px;padding-top:1px;background:#ffffff">Date<br><span style="letter-spacing:1px">(</span>yyy<span style="letter-spacing:1px">y</span><span style="letter-spacing:2px">/</span>d<span style="letter-spacing:2.2px">d</span>)</div>
<div class="c n" style="left:80px;top:679px;width:52px;height:28px;padding-top:7px;background:#ffffff">1983/13</div>
<div class="c n" style="left:133px;top:679px;width:61px;height:28px;padding-top:7px;background:#ffffff">1982/14</div>
<div class="c n" style="left:195px;top:679px;width:53px;height:28px;padding-top:7px;background:#ffffff">1979/16</div>
<div class="c n" style="left:249px;top:679px;width:44px;height:28px;padding-top:7px;background:#ffffff">1986/10</div>
<div class="c n" style="left:294px;top:679px;width:52px;height:28px;padding-top:7px;background:#ffffff">1999/21</div>
<div class="c n" style="left:347px;top:679px;width:44px;height:28px;padding-top:7px;background:#ffffff">1981/07</div>
<div class="c n" style="left:392px;top:679px;width:53px;height:28px;padding-top:7px;background:#ffffff">1996/14</div>
<div class="c n" style="left:446px;top:679px;width:53px;height:28px;padding-top:7px;background:#ffffff"><b style="letter-spacing:1.4px;margin-right:-1.4px">1983/07</b></div>
<div class="c n" style="left:500px;top:679px;width:52px;height:28px;padding-top:7px;background:#ffffff">1998/05</div>
<div class="c n" style="left:553px;top:679px;width:52px;height:28px;padding-top:7px;background:#ffffff">2000/10</div>
<div class="c n" style="left:606px;top:679px;width:52px;height:28px;padding-top:7px;background:#ffffff">1995/26</div>
<div class="c n" style="left:659px;top:679px;width:52px;height:28px;padding-top:7px;background:#ffffff">1997/02</div>
<div class="c n" style="left:712px;top:679px;width:37px;height:28px;padding-top:7px;background:#ffffff"></div>
<div class="c k" style="left:750px;top:679px;width:31px;height:28px;padding-top:7px;background:#ffffff"></div>
<div class="c l" style="left:2px;top:708px;width:77px;height:41px;padding-top:1px;background:#ccffcc">Extreme<br>Snow Depth<br><span style="letter-spacing:1.0px">(cm)</span></div>
<div class="c n" style="left:80px;top:708px;width:52px;height:41px;padding-top:14px;background:#ccffcc">85</div>
<div class="c n" style="left:133px;top:708px;width:61px;height:41px;padding-top:14px;background:#ccffcc"><b style="letter-spacing:1.4px;margin-right:-1.4px">128</b></div>
<div class="c n" style="left:195px;top:708px;width:53px;height:41px;padding-top:14px;background:#ccffcc">110</div>
<div class="c n" style="left:249px;top:708px;width:44px;height:41px;padding-top:14px;background:#ccffcc">76</div>
<div class="c n" style="left:294px;top:708px;width:52px;height:41px;padding-top:14px;background:#ccffcc">25</div>
<div class="c n" style="left:347px;top:708px;width:44px;height:41px;padding-top:14px;background:#ccffcc">3</div>
<div class="c n" style="left:392px;top:708px;width:53px;height:41px;padding-top:14px;background:#ccffcc">0</div>
<div class="c n" style="left:446px;top:708px;width:53px;height:41px;padding-top:14px;background:#ccffcc">0</div>
<div class="c n" style="left:500px;top:708px;width:52px;height:41px;padding-top:14px;background:#ccffcc">0</div>
<div class="c n" style="left:553px;top:708px;width:52px;height:41px;padding-top:14px;background:#ccffcc">20</div>
<div class="c n" style="left:606px;top:708px;width:52px;height:41px;padding-top:14px;background:#ccffcc">24</div>
<div class="c n" style="left:659px;top:708px;width:52px;height:41px;padding-top:14px;background:#ccffcc">54</div>
<div class="c n" style="left:712px;top:708px;width:37px;height:41px;padding-top:14px;background:#ccffcc"></div>
<div class="c k" style="left:750px;top:708px;width:31px;height:41px;padding-top:14px;background:#ccffcc"></div>
<div class="c l" style="left:2px;top:750px;width:77px;height:28px;padding-top:1px;background:#ccffcc">Date<br><span style="letter-spacing:1px">(</span>yyy<span style="letter-spacing:1px">y</span><span style="letter-spacing:2px">/</span>d<span style="letter-spacing:2.2px">d</span>)</div>
<div class="c n" style="left:80px;top:750px;width:52px;height:28px;padding-top:7px;background:#ccffcc"><span style="margin-right:0.8px">1995/25+</span></div>
<div class="c n" style="left:133px;top:750px;width:61px;height:28px;padding-top:7px;background:#ccffcc"><b style="letter-spacing:1.4px;margin-right:-0.3999999999999999px">1988/17+</b></div>
<div class="c n" style="left:195px;top:750px;width:53px;height:28px;padding-top:7px;background:#ccffcc">1988/23</div>
<div class="c n" style="left:249px;top:750px;width:44px;height:28px;padding-top:7px;background:#ccffcc">1995/07</div>
<div class="c n" style="left:294px;top:750px;width:52px;height:28px;padding-top:7px;background:#ccffcc">2001/02</div>
<div class="c n" style="left:347px;top:750px;width:44px;height:28px;padding-top:7px;background:#ccffcc">1988/02</div>
<div class="c n" style="left:392px;top:750px;width:53px;height:28px;padding-top:7px;background:#ccffcc"><span style="margin-right:0.8px">1981/01+</span></div>
<div class="c n" style="left:446px;top:750px;width:53px;height:28px;padding-top:7px;background:#ccffcc"><span style="margin-right:0.8px">1981/01+</span></div>
<div class="c n" style="left:500px;top:750px;width:52px;height:28px;padding-top:7px;background:#ccffcc"><span style="margin-right:0.8px">1981/01+</span></div>
<div class="c n" style="left:553px;top:750px;width:52px;height:28px;padding-top:7px;background:#ccffcc">1999/19</div>
<div class="c n" style="left:606px;top:750px;width:52px;height:28px;padding-top:7px;background:#ccffcc"><span style="margin-right:0.8px">1996/29+</span></div>
<div class="c n" style="left:659px;top:750px;width:52px;height:28px;padding-top:7px;background:#ccffcc">1994/09</div>
<div class="c n" style="left:712px;top:750px;width:37px;height:28px;padding-top:7px;background:#ccffcc"></div>
<div class="c k" style="left:750px;top:750px;width:31px;height:28px;padding-top:7px;background:#ccffcc"></div>
<div style="position:absolute;left:1px;top:159px;width:781px;height:2px;background:#1f8a55"></div>
<div style="position:absolute;left:79px;top:159px;width:1px;height:2px;background:#2e9160"></div>
<div style="position:absolute;left:132px;top:159px;width:1px;height:2px;background:#2e9160"></div>
<div style="position:absolute;left:194px;top:159px;width:1px;height:2px;background:#2e9160"></div>
<div style="position:absolute;left:248px;top:159px;width:1px;height:2px;background:#2e9160"></div>
<div style="position:absolute;left:293px;top:159px;width:1px;height:2px;background:#2e9160"></div>
<div style="position:absolute;left:346px;top:159px;width:1px;height:2px;background:#2e9160"></div>
<div style="position:absolute;left:391px;top:159px;width:1px;height:2px;background:#2e9160"></div>
<div style="position:absolute;left:445px;top:159px;width:1px;height:2px;background:#2e9160"></div>
<div style="position:absolute;left:499px;top:159px;width:1px;height:2px;background:#2e9160"></div>
<div style="position:absolute;left:552px;top:159px;width:1px;height:2px;background:#2e9160"></div>
<div style="position:absolute;left:605px;top:159px;width:1px;height:2px;background:#2e9160"></div>
<div style="position:absolute;left:658px;top:159px;width:1px;height:2px;background:#2e9160"></div>
<div style="position:absolute;left:711px;top:159px;width:1px;height:2px;background:#2e9160"></div>
<div style="position:absolute;left:749px;top:159px;width:1px;height:2px;background:#2e9160"></div>
<div style="position:absolute;left:1px;top:302px;width:781px;height:2px;background:#1f8a55"></div>
<div style="position:absolute;left:79px;top:302px;width:1px;height:1px;background:#2e9160"></div>
<div style="position:absolute;left:132px;top:302px;width:1px;height:1px;background:#2e9160"></div>
<div style="position:absolute;left:194px;top:302px;width:1px;height:1px;background:#2e9160"></div>
<div style="position:absolute;left:248px;top:302px;width:1px;height:1px;background:#2e9160"></div>
<div style="position:absolute;left:293px;top:302px;width:1px;height:1px;background:#2e9160"></div>
<div style="position:absolute;left:346px;top:302px;width:1px;height:1px;background:#2e9160"></div>
<div style="position:absolute;left:391px;top:302px;width:1px;height:1px;background:#2e9160"></div>
<div style="position:absolute;left:445px;top:302px;width:1px;height:1px;background:#2e9160"></div>
<div style="position:absolute;left:499px;top:302px;width:1px;height:1px;background:#2e9160"></div>
<div style="position:absolute;left:552px;top:302px;width:1px;height:1px;background:#2e9160"></div>
<div style="position:absolute;left:605px;top:302px;width:1px;height:1px;background:#2e9160"></div>
<div style="position:absolute;left:658px;top:302px;width:1px;height:1px;background:#2e9160"></div>
<div style="position:absolute;left:711px;top:302px;width:1px;height:1px;background:#2e9160"></div>
<div style="position:absolute;left:749px;top:302px;width:1px;height:1px;background:#2e9160"></div>
<div style="position:absolute;left:1px;top:506px;width:781px;height:2px;background:#1f8a55"></div>
<div style="position:absolute;left:79px;top:506px;width:1px;height:2px;background:#2e9160"></div>
<div style="position:absolute;left:132px;top:506px;width:1px;height:2px;background:#2e9160"></div>
<div style="position:absolute;left:194px;top:506px;width:1px;height:2px;background:#2e9160"></div>
<div style="position:absolute;left:248px;top:506px;width:1px;height:2px;background:#2e9160"></div>
<div style="position:absolute;left:293px;top:506px;width:1px;height:2px;background:#2e9160"></div>
<div style="position:absolute;left:346px;top:506px;width:1px;height:2px;background:#2e9160"></div>
<div style="position:absolute;left:391px;top:506px;width:1px;height:2px;background:#2e9160"></div>
<div style="position:absolute;left:445px;top:506px;width:1px;height:2px;background:#2e9160"></div>
<div style="position:absolute;left:499px;top:506px;width:1px;height:2px;background:#2e9160"></div>
<div style="position:absolute;left:552px;top:506px;width:1px;height:2px;background:#2e9160"></div>
<div style="position:absolute;left:605px;top:506px;width:1px;height:2px;background:#2e9160"></div>
<div style="position:absolute;left:658px;top:506px;width:1px;height:2px;background:#2e9160"></div>
<div style="position:absolute;left:711px;top:506px;width:1px;height:2px;background:#2e9160"></div>
<div style="position:absolute;left:749px;top:506px;width:1px;height:2px;background:#2e9160"></div>
</div></body></html>
